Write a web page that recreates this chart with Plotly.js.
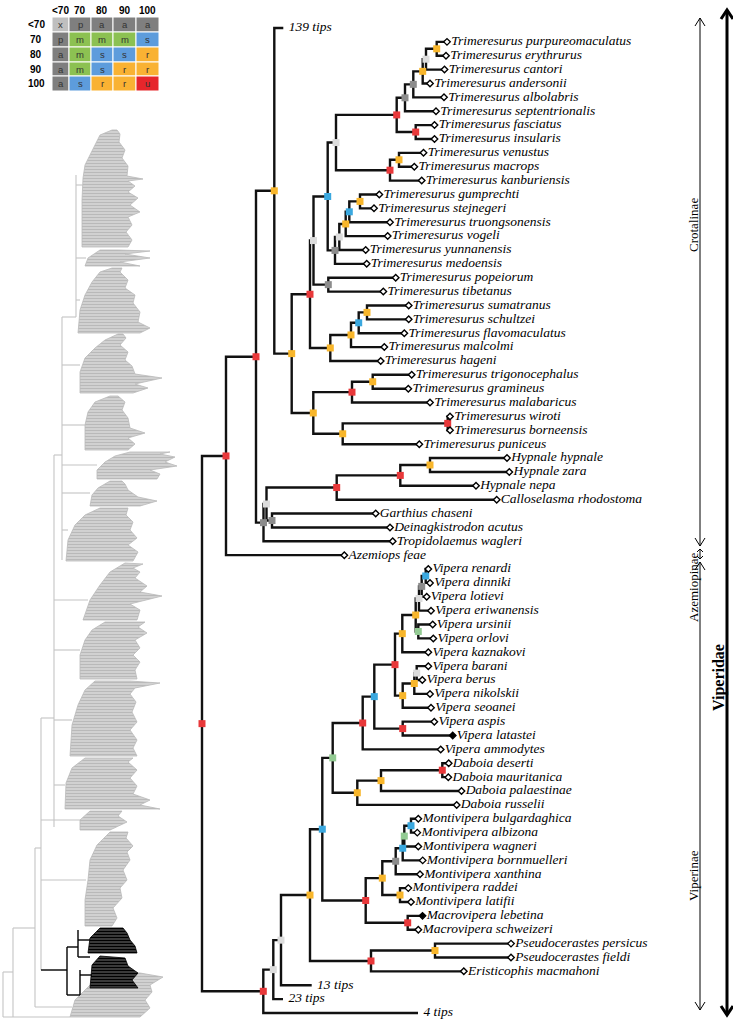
<!DOCTYPE html>
<html><head><meta charset="utf-8">
<script src="https://cdn.plot.ly/plotly-3.0.1.min.js"></script>
<style>html,body{margin:0;padding:0;background:#fff}#chart{width:733px;height:1021px}</style>
</head><body><div id="chart"></div>
<script>
// ---------------- DATA ----------------
const tipNames = ["139 tips","Trimeresurus purpureomaculatus","Trimeresurus erythrurus","Trimeresurus cantori","Trimeresurus andersonii","Trimeresurus albolabris","Trimeresurus septentrionalis","Trimeresurus fasciatus","Trimeresurus insularis","Trimeresurus venustus","Trimeresurus macrops","Trimeresurus kanburiensis","Trimeresurus gumprechti","Trimeresurus stejnegeri","Trimeresurus truongsonensis","Trimeresurus vogeli","Trimeresurus yunnanensis","Trimeresurus medoensis","Trimeresurus popeiorum","Trimeresurus tibetanus","Trimeresurus sumatranus","Trimeresurus schultzei","Trimeresurus flavomaculatus","Trimeresurus malcolmi","Trimeresurus hageni","Trimeresurus trigonocephalus","Trimeresurus gramineus","Trimeresurus malabaricus","Trimeresurus wiroti","Trimeresurus borneensis","Trimeresurus puniceus","Hypnale hypnale","Hypnale zara","Hypnale nepa","Calloselasma rhodostoma","Garthius chaseni","Deinagkistrodon acutus","Tropidolaemus wagleri","Azemiops feae","Vipera renardi","Vipera dinniki","Vipera lotievi","Vipera eriwanensis","Vipera ursinii","Vipera orlovi","Vipera kaznakovi","Vipera barani","Vipera berus","Vipera nikolskii","Vipera seoanei","Vipera aspis","Vipera latastei","Vipera ammodytes","Daboia deserti","Daboia mauritanica","Daboia palaestinae","Daboia russelii","Montivipera bulgardaghica","Montivipera albizona","Montivipera wagneri","Montivipera bornmuelleri","Montivipera xanthina","Montivipera raddei","Montivipera latifii","Macrovipera lebetina","Macrovipera schweizeri","Pseudocerastes persicus","Pseudocerastes fieldi","Eristicophis macmahoni","13 tips","23 tips","4 tips"];
const tipDepth = [283.3,447,446,444.5,430,444,436,434.5,434.5,423.5,414.3,421.7,379.3,374,390,387.7,365.7,366.7,395.7,383.3,408.7,408.7,404.3,384.3,380.7,411.7,408.3,430,450,450,419.3,507,509.3,476,496.7,375.7,390,392.7,344.3,428.3,430,426.7,431,432.7,433.3,428.3,428.3,422.3,430,431,434.3,452.7,440.7,448.7,448.3,461.5,456.7,418.3,417.3,418.3,422.7,420,408.3,411,422.5,418.3,511,511,463.8,311.7,283,418];
const tipStatus = ["collapsed"].concat(Array(50).fill("open"),["filled"],Array(12).fill("open"),["filled"],Array(4).fill("open"),["collapsed","collapsed","collapsed"]);

const nodeNames   = ["root","n226","n256","n274","n292","A","B","D","G","I","K","L","M","N","O","J","P","Q","H","R","S","T","U","E","C","V","W","X","F","Y","Z","AA","AB","AC","AD","AE","AG","AH","AF","v263","v273","v281","AI","AJ","AK","AL","AN","AO","AP","AQ","AR","AS","AT","AU","AM","AV","AW","AX","AY","AZ","BA","BB","BC","BD","BH","BJ","BK","BI","BE","BF","BG"];
const nodeDepth   = [202,226,256,274.3,291.7,310,313.5,327.7,336,396.7,405,413.3,422.7,426,436.7,415.7,390,399,335,339.3,345.7,349.3,360,328.3,330.3,351,358.7,367,313.3,352,372.7,342.7,447.7,263.5,266.5,336.7,400.3,430,272,263.3,273.3,281,310,371,435,322.3,365.7,407.7,382.3,400,395.7,402.7,404.3,411,332.7,357.3,381,442.3,362.7,374.3,402.7,395,402.3,415.7,419,421.7,425.7,418.3,402.7,414.3,416.7];
const nodeSupport = ["u","u","u","r","r","u","x","s","x","u","a","a","r","x","r","u","u","r","a","x","r","s","r","a","r","r","s","r","r","u","r","r","u","a","x","u","u","r","a","u","x","x","r","u","r","s","u","u","r","r","a","s","m","s","m","r","r","u","u","s","u","u","r","r","x","a","s","m","r","r","x"];
const nodeUpper = ["n226","n256","n274","139 tips","A","B","D","G","I","K","L","M","N","O","Trimeresurus purpureomaculatus","Trimeresurus fasciatus","Q","Trimeresurus venustus","R","S","T","U","Trimeresurus gumprechti","Trimeresurus popeiorum","V","W","X","Trimeresurus sumatranus","Y","Z","Trimeresurus trigonocephalus","AB","Trimeresurus wiroti","AD","AE","AG","AH","Hypnale hypnale","Garthius chaseni","v273","v281","AI","AL","AK","Pseudocerastes persicus","AM","AP","Macrovipera lebetina","AR","Montivipera raddei","AS","AT","AU","Montivipera bulgardaghica","AY","AW","AX","Daboia deserti","AZ","BB","Vipera aspis","BC","BD","BH","BJ","BK","Vipera renardi","Vipera ursinii","BF","BG","Vipera barani"];
const nodeLower = ["v263","Azemiops feae","AC","n292","F","C","E","H","P","J","Trimeresurus septentrionalis","Trimeresurus albolabris","Trimeresurus andersonii","Trimeresurus cantori","Trimeresurus erythrurus","Trimeresurus insularis","Trimeresurus kanburiensis","Trimeresurus macrops","Trimeresurus medoensis","Trimeresurus yunnanensis","Trimeresurus vogeli","Trimeresurus truongsonensis","Trimeresurus stejnegeri","Trimeresurus tibetanus","Trimeresurus hageni","Trimeresurus malcolmi","Trimeresurus flavomaculatus","Trimeresurus schultzei","AA","Trimeresurus malabaricus","Trimeresurus gramineus","Trimeresurus puniceus","Trimeresurus borneensis","Tropidolaemus wagleri","AF","Calloselasma rhodostoma","Hypnale nepa","Hypnale zara","Deinagkistrodon acutus","4 tips","23 tips","13 tips","AJ","Eristicophis macmahoni","Pseudocerastes fieldi","AN","AO","Macrovipera schweizeri","AQ","Montivipera latifii","Montivipera xanthina","Montivipera bornmuelleri","Montivipera wagneri","Montivipera albizona","AV","Daboia russelii","Daboia palaestinae","Daboia mauritanica","Vipera ammodytes","BA","Vipera latastei","BE","Vipera kaznakovi","BI","Vipera eriwanensis","Vipera lotievi","Vipera dinniki","Vipera orlovi","Vipera seoanei","Vipera nikolskii","Vipera berus"];

// support table (legend)
const tableCols = ["<70","70","80","90","100"];
const tableRows = ["<70","70","80","90","100"];
const tableCells = [["x","p","a","a","a"],["p","m","m","m","s"],["a","m","s","s","r"],["a","m","s","r","r"],["a","s","r","r","u"]];

// subfamily brackets (label, top px, bottom px)
const cladeLabels = ["Crotalinae","Azemiopinae","Viperinae"];
const cladeTop = [18, 549, 562];
const cladeBottom = [546, 559, 1010];

// background squamate tree: clade silhouettes (px)
const grayPolys = [
 [[112,130],[100,135],[95,145],[90,155],[85,165],[83,178],[82,200],[82,247],[128,247],[132,240],[126,232],[132,225],[128,217],[140,212],[130,205],[138,198],[128,192],[135,186],[128,181],[143,179],[127,176],[128,166],[122,158],[125,150],[119,142],[120,134],[117,130]],
 [[100,250],[88,258],[85,266],[140,266],[120,262],[150,258],[125,254],[150,251],[118,250]],
 [[112,268],[100,272],[92,282],[85,295],[80,310],[78,333],[140,333],[150,328],[138,322],[140,312],[133,303],[135,295],[125,288],[128,280],[120,272],[122,268]],
 [[118,334],[105,340],[95,348],[85,358],[80,372],[80,393],[133,393],[148,388],[135,384],[162,378],[135,374],[132,366],[125,360],[128,352],[120,345],[126,338],[123,334]],
 [[110,396],[95,402],[88,412],[85,425],[85,450],[128,450],[135,444],[128,438],[145,433],[130,428],[128,418],[122,410],[125,402],[118,396]],
 [[130,452],[115,456],[105,462],[97,470],[97,479],[157,479],[160,474],[150,470],[177,466],[165,462],[175,457],[160,454],[170,452]],
 [[110,481],[98,488],[92,495],[90,506],[140,506],[157,501],[138,497],[128,490],[125,484],[122,481]],
 [[100,508],[85,515],[75,525],[68,540],[66,561],[133,561],[138,552],[128,545],[137,538],[130,530],[133,522],[126,515],[128,508]],
 [[125,563],[110,572],[100,585],[90,600],[83,620],[137,620],[140,610],[130,604],[162,596],[140,592],[147,586],[135,578],[140,572],[133,568],[143,564]],
 [[105,622],[92,630],[85,640],[80,655],[80,679],[137,679],[135,670],[140,662],[133,655],[140,648],[135,640],[147,633],[138,627],[145,622]],
 [[95,681],[85,690],[78,705],[72,725],[70,756],[137,756],[133,748],[137,740],[130,730],[137,722],[132,712],[136,702],[130,694],[135,688],[160,683],[130,681]],
 [[85,758],[72,768],[66,783],[65,809],[160,809],[140,805],[150,800],[133,794],[137,786],[130,778],[137,770],[128,762],[133,758]],
 [[90,811],[80,820],[80,830],[110,830],[127,822],[118,816],[122,811]],
 [[110,832],[97,845],[90,860],[88,880],[85,900],[85,926],[112,926],[117,918],[113,908],[122,898],[120,888],[127,880],[123,870],[130,860],[127,852],[133,846],[126,838],[128,832]],
 [[110,972],[90,985],[75,1000],[70,1017],[140,1017],[150,1008],[145,1000],[152,992],[150,985],[163,977],[140,973]]
];
const blackPolys = [
 [[100,928],[90,938],[88,953],[137,953],[135,946],[130,940],[127,933],[123,928]],
 [[100,956],[92,965],[90,988],[138,988],[132,980],[138,973],[128,966],[125,958]]
];
const grayLines = [[76,175,76,317],[76,185,83,185],[76,258,86,258],[76,300,80,300],[62,317,76,317],[62,317,62,560],[62,365,80,365],[62,425,85,425],[62,465,97,465],[62,493,90,493],[62,530,68,530],[54,455,62,455],[54,455,54,827],[54,600,88,600],[54,650,80,650],[54,720,72,720],[54,785,65,785],[41,718,54,718],[41,718,41,970],[41,820,80,820],[41,880,86,880],[35,848,41,848],[35,848,35,1007],[35,1007,72,1007],[13,928,35,928],[13,928,13,1017],[3,972,13,972],[3,972,3,1017],[3,1017,70,1017]];
const blackLines = [[41,970,67,970],[67,947,67,995],[67,947,78,947],[78,930,78,957],[78,940,90,940],[78,957,90,957],[67,995,80,995],[80,970,80,995],[80,975,92,975]];

// ---------------- BUILD ----------------
const supportColor = {u:"#e8383a", r:"#f8b62b", s:"#3aa8df", m:"#93cb93", a:"#8c8c8c", p:"#8c8c8c", x:"#dcdcdc"};
const cellColor = {x:"#bfbfbf", p:"#7f7f7f", a:"#7f7f7f", m:"#8cc152", s:"#5d9cdc", r:"#f9b233", u:"#e6262b"};

const tipIndex = {}; tipNames.forEach((n,i)=>tipIndex[n]=i);
const nodeIndex = {}; nodeNames.forEach((n,i)=>nodeIndex[n]=i);
function posOf(name){
  if (name in tipIndex) return {x: tipDepth[tipIndex[name]], y: tipIndex[name]};
  const i = nodeIndex[name];
  const a = posOf(nodeUpper[i]), b = posOf(nodeLower[i]);
  return {x: nodeDepth[i], y: (a.y + b.y)/2};
}
const lx=[], ly=[];
nodeNames.forEach((n,i)=>{
  const p = posOf(n);
  [nodeUpper[i], nodeLower[i]].forEach(c=>{
    const q = posOf(c);
    lx.push(p.x, p.x, q.x, null); ly.push(p.y, q.y, q.y, null);
  });
});
const traces = [];
function polyTrace(poly, fg, bg){
  return {type:"scatter", mode:"lines", x:poly.map(p=>p[0]).concat([poly[0][0]]), y:poly.map(p=>p[1]).concat([poly[0][1]]),
    yaxis:"y2", fill:"toself", fillcolor:bg, fillpattern:{shape:"-", fgcolor:fg, bgcolor:bg, size:3, solidity:0.45},
    line:{color:fg, width:0.8}, hoverinfo:"skip"};
}
grayPolys.forEach(poly=>traces.push(polyTrace(poly, "#b9b9b9", "#d6d6d6")));
blackPolys.forEach(poly=>traces.push(polyTrace(poly, "#000", "#444")));
function segTrace(segs, color, w){
  const x=[],y=[]; segs.forEach(s=>{x.push(s[0],s[2],null); y.push(s[1],s[3],null);});
  return {type:"scatter", mode:"lines", x, y, yaxis:"y2", line:{color, width:w}, hoverinfo:"skip"};
}
traces.push(segTrace(grayLines, "#c4c4c4", 1.1));
traces.push(segTrace(blackLines, "#000", 1.4));

// main tree branches
traces.push({type:"scatter", mode:"lines", x:lx, y:ly, line:{color:"#111", width:2.4}, hoverinfo:"skip"});
// node support squares
const nx=[], ny=[], nc=[];
nodeNames.forEach((n,i)=>{const p=posOf(n); nx.push(p.x); ny.push(p.y); nc.push(supportColor[nodeSupport[i]]);});
traces.push({type:"scatter", mode:"markers", x:nx, y:ny, marker:{symbol:"square", size:7, color:nc, line:{width:0}}, hoverinfo:"skip"});
// tips
const tipFont = {family:"Liberation Serif, Times New Roman, serif", size:13.5, color:"#000"};
["open","filled","collapsed"].forEach(st=>{
  const idx = tipNames.map((n,i)=>i).filter(i=>tipStatus[i]===st);
  traces.push({type:"scatter", mode:"markers+text", x:idx.map(i=>tipDepth[i]), y:idx,
    text: idx.map(i=>"<i>"+tipNames[i]+"</i>"), textposition:"middle right", textfont:tipFont, cliponaxis:false,
    marker: st==="collapsed" ? {size:7, opacity:0} : {symbol:"diamond", size:5, color: st==="filled"?"#000":"#fff", line:{color:"#000", width:1.4}},
    hoverinfo:"skip"});
});

// table
const shapes=[], annotations=[];
const colEdges=[52,69,91,113,136,159], rowEdges=[17,32,47,62,76,91];
tableCols.forEach((c,j)=>annotations.push({x:(colEdges[j]+colEdges[j+1])/2, y:10, yref:"y2", text:"<b>"+c.replace("<","&lt;")+"</b>", showarrow:false, font:{family:"Liberation Sans, Arial", size:10, color:"#000"}}));
tableRows.forEach((r,i)=>{
  annotations.push({x:36, y:(rowEdges[i]+rowEdges[i+1])/2, yref:"y2", text:"<b>"+r.replace("<","&lt;")+"</b>", showarrow:false, font:{family:"Liberation Sans, Arial", size:10, color:"#000"}});
  tableCells[i].forEach((v,j)=>{
    shapes.push({type:"rect", xref:"x", yref:"y2", x0:colEdges[j], x1:colEdges[j+1], y0:rowEdges[i], y1:rowEdges[i+1], fillcolor:cellColor[v], line:{color:"#fff", width:1}, layer:"above"});
    annotations.push({x:(colEdges[j]+colEdges[j+1])/2, y:(rowEdges[i]+rowEdges[i+1])/2, yref:"y2", text:v, showarrow:false, font:{family:"Liberation Sans, Arial", size:9.5, color:"#333"}});
  });
});

// right-hand brackets
function arrow(x, y0, y1, w, hw, hh, color){
  shapes.push({type:"line", xref:"x", yref:"y2", x0:x, x1:x, y0:y0, y1:y1, line:{color, width:w}});
  shapes.push({type:"path", xref:"x", yref:"y2", path:`M${x-hw},${y0+hh} L${x},${y0} L${x+hw},${y0+hh}`, line:{color, width:w}});
  shapes.push({type:"path", xref:"x", yref:"y2", path:`M${x-hw},${y1-hh} L${x},${y1} L${x+hw},${y1-hh}`, line:{color, width:w}});
}
cladeLabels.forEach((lab,i)=>{
  const small = (cladeBottom[i]-cladeTop[i])<30;
  arrow(700, cladeTop[i], cladeBottom[i], 1, small?3:5, small?3:8, "#000");
});
annotations.push({x:693, y:225, yref:"y2", text:"Crotalinae", textangle:-90, showarrow:false, font:{family:"Liberation Serif, serif", size:13, color:"#000"}});
annotations.push({x:693, y:587, yref:"y2", text:"Azemiopinae", textangle:-90, showarrow:false, font:{family:"Liberation Serif, serif", size:13, color:"#000"}});
annotations.push({x:693, y:876, yref:"y2", text:"Viperinae", textangle:-90, showarrow:false, font:{family:"Liberation Serif, serif", size:13, color:"#000"}});
arrow(727, 10, 1015, 3, 6, 9, "#000");
annotations.push({x:719, y:678, yref:"y2", text:"<b>Viperidae</b>", textangle:-90, showarrow:false, font:{family:"Liberation Serif, serif", size:16, color:"#000"}});

const layout = {
  width:733, height:1021, margin:{l:0,r:0,t:0,b:0}, paper_bgcolor:"#fff", plot_bgcolor:"#fff", showlegend:false,
  xaxis:{range:[0,733], visible:false, fixedrange:true},
  yaxis:{range:[71.578,-2.018], visible:false, fixedrange:true},
  yaxis2:{range:[1021,0], overlaying:"y", visible:false, fixedrange:true},
  shapes, annotations
};
Plotly.newPlot("chart", traces, layout, {displayModeBar:false, staticPlot:true});
</script>
</body></html>
